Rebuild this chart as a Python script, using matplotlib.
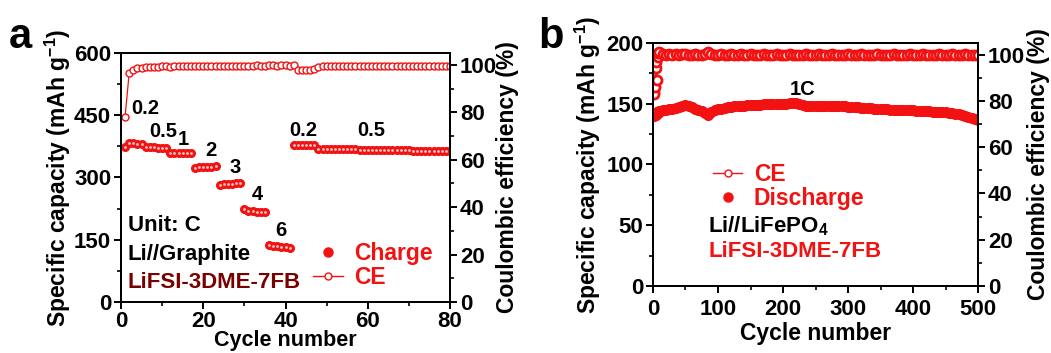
import matplotlib
matplotlib.use("Agg")
import matplotlib.pyplot as plt
from matplotlib.lines import Line2D
from matplotlib.ticker import MultipleLocator

plt.rcParams["font.family"] = ["Liberation Sans", "DejaVu Sans"]
plt.rcParams["font.weight"] = "bold"
plt.rcParams["axes.labelweight"] = "bold"
plt.rcParams["mathtext.fontset"] = "custom"
plt.rcParams["mathtext.bf"] = "Liberation Sans:bold"
plt.rcParams["mathtext.rm"] = "Liberation Sans:bold"
plt.rcParams["mathtext.default"] = "bf"

RED = "#f21212"
DARK_RED = "#7a0000"

# ── panel a: rate test, Li//Graphite ───────────────────────────────────────
cycles_a = list(range(1, 81))
charge_a = [373,
            382, 383, 381, 380,
            374, 373, 373, 372, 372, 371,
            360, 359, 358, 358, 358, 358,
            324, 325, 325, 326, 326, 327,
            282, 284, 284, 285, 286, 286,
            223, 220, 219, 218, 217, 217,
            138, 136, 135, 133, 132, 131,
            379, 379, 379, 379, 378, 378,
            369, 369, 369, 369, 368, 368, 368, 368, 368, 368,
            367, 367, 367, 367, 367, 367, 366, 366, 366, 366,
            366, 366, 366, 365, 365, 365, 365, 365, 364, 364,
            364, 364, 364]
ce_a = [78.2, 96.6, 97.8, 98.5, 98.8,
        99.0, 99.2, 99.3, 99.3, 99.4, 99.4, 99.3, 99.5, 99.4, 99.5,
        99.4, 99.5, 99.6, 99.5, 99.5, 99.6, 99.5, 99.6, 99.6, 99.5,
        99.6, 99.5, 99.7, 99.6, 99.5, 99.7, 99.6, 99.8, 99.6, 99.7,
        99.8, 99.8, 99.7, 99.8, 99.9, 99.7,
        99.8, 98.0, 97.7, 97.7, 97.8, 98.2,
        99.2, 99.4, 99.4, 99.4, 99.5, 99.4, 99.4, 99.5, 99.4, 99.4,
        99.4, 99.5, 99.4, 99.4, 99.4, 99.5, 99.4, 99.4, 99.4, 99.4,
        99.5, 99.4, 99.4, 99.4, 99.4, 99.4, 99.4, 99.5, 99.4, 99.4,
        99.4, 99.4, 99.4]
rate_labels_a = ["0.2", "0.5", "1", "2", "3", "4", "6", "0.2", "0.5"]
rate_x_a = [2.4, 6.9, 13.7, 20.4, 26.3, 31.9, 37.6, 40.8, 57.4]
rate_y_a = [466, 412, 391, 365, 325, 259, 173, 414, 414]

# ── panel b: long cycling at 1C, Li//LiFePO4 ───────────────────────────────
cycles_b = list(range(1, 11)) + list(range(15, 501, 5))
discharge_b = [140, 141, 142, 141, 142, 143, 142, 143, 143, 144,
               144.5, 145, 145.5, 146, 146.5, 147.5, 148.5, 149, 148, 147,
               146, 145, 144, 142.5, 140.5, 143, 144.5, 145.5, 146, 146.5,
               147, 147.5, 147.8, 148, 148.3, 148.5, 148.7, 149, 149, 149.2,
               149.3, 149.5, 149.6, 149.8, 149.8, 150, 150, 150.2, 150.2, 150.4,
               150.5, 150.4, 149.8, 149, 148.5, 148.3, 148.2, 148.2, 148.3, 148.4,
               148.4, 148.3, 148.2, 148.1, 148, 147.9, 147.8, 147.7, 147.5, 147.3,
               147.1, 146.9, 146.7, 146.5, 146.2, 146, 145.8, 145.6, 145.4, 145.3,
               145.2, 145.1, 145, 144.9, 144.8, 144.7, 144.6, 144.5, 144.3, 144.2,
               144, 143.9, 143.7, 143.5, 143.4, 143.2, 143, 142.8, 142.5, 142.2,
               141.8, 141.3, 140.7, 140, 139.3, 138.6, 137.8, 137]
ce_b = [84, 83, 86, 94, 97, 89, 99, 100.5, 100.8, 101,
        100.2, 99.9, 100.1, 100.0, 100.2, 99.9, 100.1, 100.3, 100.0, 99.9,
        100.1, 100.0, 99.9, 100.2, 101.2, 100.1, 99.9, 100.0, 100.1, 99.9,
        100.0, 100.1, 99.9, 100.0, 100.1, 100.0, 99.9, 100.1, 100.0, 100.0,
        99.9, 100.1, 100.0, 99.9, 100.0, 100.1, 100.0, 99.9, 100.0, 100.1,
        100.0, 99.9, 100.0, 100.0, 100.1, 99.9, 100.0, 100.0, 100.1, 100.0,
        99.9, 100.0, 100.1, 100.0, 99.9, 100.0, 100.0, 100.1, 100.0, 99.9,
        100.0, 100.1, 100.0, 99.9, 100.0, 100.0, 100.1, 100.0, 99.9, 100.0,
        100.0, 100.1, 100.0, 99.9, 100.0, 100.0, 100.1, 100.0, 99.9, 100.0,
        100.1, 100.0, 99.9, 100.0, 100.0, 100.1, 100.0, 99.9, 100.0, 100.1,
        100.0, 99.9, 100.0, 100.1, 100.0, 99.9, 100.0, 100.0]


def style_axes(ax, ax2, xmaj, xmin, ymaj, ymin, xpad):
    for a in (ax, ax2):
        for s in a.spines.values():
            s.set_linewidth(1.4)
        a.tick_params(which="major", direction="out", length=5, width=1.4,
                      labelsize=16, pad=2)
        a.tick_params(which="minor", direction="out", length=3, width=1.2)
    ax.tick_params(axis="x", which="major", pad=xpad)
    ax.xaxis.set_major_locator(MultipleLocator(xmaj))
    ax.xaxis.set_minor_locator(MultipleLocator(xmin))
    ax.yaxis.set_major_locator(MultipleLocator(ymaj))
    ax.yaxis.set_minor_locator(MultipleLocator(ymin))
    ax2.yaxis.set_major_locator(MultipleLocator(20))
    ax2.yaxis.set_minor_locator(MultipleLocator(10))
    ax2.set_ylim(0, 105)
    ax2.set_ylabel("Coulombic efficiency (%)", fontsize=16.5,
                   fontweight="bold")
    for a in (ax, ax2):
        for t in a.get_xticklabels() + a.get_yticklabels():
            t.set_fontweight("bold")


fig = plt.figure(figsize=(10.51, 3.53), dpi=100)

# ── panel a ──
ax = fig.add_axes([0.1151, 0.1445, 0.3131, 0.7054])
ax2 = ax.twinx()
ax.plot(cycles_a, charge_a, ls="none", marker="o", ms=5.5, color=RED,
        mec=RED, zorder=3)
ax.plot(cycles_a, charge_a, ls="none", marker="o", ms=2, color="#ffc8c8",
        mec="none", zorder=4)
ax2.plot(cycles_a, ce_a, ls="-", lw=0.9, marker="o", ms=5, color=RED,
         mfc="white", mec=RED, mew=1.0)
ax.set_xlim(0, 80)
ax.set_ylim(0, 600)
style_axes(ax, ax2, 20, 10, 150, 75, 1.5)
ax.set_xlabel("Cycle number", fontsize=15.5, fontweight="bold")
ax.set_ylabel("Specific capacity (mAh g$^{-1}$)", fontsize=16.5,
              fontweight="bold")
ax.xaxis.set_label_coords(0.5, -0.112)
ax.yaxis.set_label_coords(-0.145, 0.5)
ax2.yaxis.set_label_coords(1.14, 0.5)

for lbl, x, y in zip(rate_labels_a, rate_x_a, rate_y_a):
    ax.text(x, y, lbl, fontsize=14.5, fontweight="bold", ha="left",
            va="center", color="black")
ax.text(1.6, 185, "Unit: C", fontsize=16, fontweight="bold", ha="left",
        va="center")
ax.text(1.6, 114, "Li//Graphite", fontsize=16, fontweight="bold",
        ha="left", va="center")
ax.text(1.6, 48, "LiFSI-3DME-7FB", fontsize=16, fontweight="bold",
        ha="left", va="center", color=DARK_RED)

h_charge = Line2D([], [], ls="none", marker="o", ms=6.5, color=RED)
h_ce = Line2D([], [], ls="-", lw=1, marker="o", ms=5, color=RED,
              mfc="white", mew=1)
ax2.legend([h_charge, h_ce], ["Charge", "CE"], loc="lower right",
           bbox_to_anchor=(1.01, -0.03), frameon=False,
           prop={"size": 16.5, "weight": "bold"}, labelcolor=RED,
           handlelength=1.3, handletextpad=0.5, labelspacing=0.05)

fig.text(0.008, 0.865, "a", fontsize=30, fontweight="bold", va="baseline")

# ── panel b ──
bx = fig.add_axes([0.6213, 0.1898, 0.3093, 0.6884])
bx2 = bx.twinx()
bx.plot(cycles_b, discharge_b, ls="none", marker="o", ms=7, color=RED,
        mec=RED, zorder=3)
bx2.plot(cycles_b, ce_b, ls="-", lw=1.5, marker="o", ms=6.5, color=RED,
         mfc="white", mec=RED, mew=2.0)
bx.set_xlim(0, 500)
bx.set_ylim(0, 200)
style_axes(bx, bx2, 100, 50, 50, 25, 4)
bx.set_xlabel("Cycle number", fontsize=16.5, fontweight="bold")
bx.set_ylabel("Specific capacity (mAh g$^{-1}$)", fontsize=16.5,
              fontweight="bold")
bx.xaxis.set_label_coords(0.5, -0.15)
bx.yaxis.set_label_coords(-0.155, 0.5)
bx2.yaxis.set_label_coords(1.15, 0.5)

bx.text(211, 161.5, "1C", fontsize=14.5, fontweight="bold", ha="left",
        va="center")
bx.text(85, 49, "Li//LiFePO$_4$", fontsize=16, fontweight="bold",
        ha="left", va="center")
bx.text(85, 28, "LiFSI-3DME-7FB", fontsize=16, fontweight="bold",
        ha="left", va="center", color=RED)

h_ce_b = Line2D([], [], ls="-", lw=1, marker="o", ms=5, color=RED,
                mfc="white", mew=1)
h_dis = Line2D([], [], ls="none", marker="o", ms=6.5, color=RED)
bx2.legend([h_ce_b, h_dis], ["CE", "Discharge"], loc="center left",
           bbox_to_anchor=(0.12, 0.41), frameon=False,
           prop={"size": 16.5, "weight": "bold"}, labelcolor=RED,
           handlelength=1.3, handletextpad=0.5, labelspacing=0.05)

fig.text(0.512, 0.865, "b", fontsize=30, fontweight="bold", va="baseline")

fig.savefig("out.png", dpi=100)
